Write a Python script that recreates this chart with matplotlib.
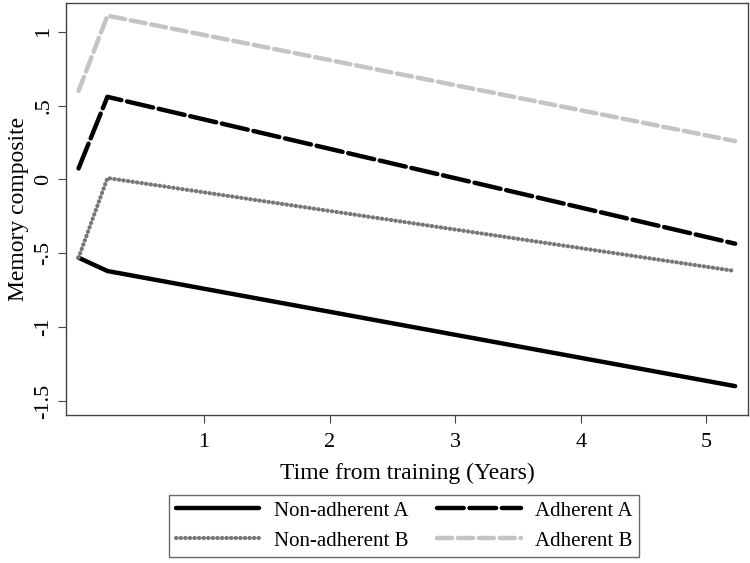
import matplotlib
matplotlib.use('Agg')
import matplotlib.pyplot as plt

plt.rcParams['font.family'] = ['Liberation Serif', 'DejaVu Serif']

# time points (years) and predicted memory composite
time = [0, 0.23, 5.23]
non_adherent_a = [-0.53, -0.62, -1.40]
non_adherent_b = [-0.53, 0.01, -0.62]
adherent_a = [0.075, 0.56, -0.435]
adherent_b = [0.60, 1.11, 0.26]

xticks = [1, 2, 3, 4, 5]
yticks = [1, 0.5, 0, -0.5, -1, -1.5]
ytick_labels = ['1', '.5', '0', '-.5', '-1', '-1.5']

fig = plt.figure(figsize=(7.5, 5.63), dpi=100)
ax = fig.add_axes([0.088, 0.263, 0.909, 0.732])

ax.plot(time, non_adherent_a, color='black', lw=3.2, solid_capstyle='round',
        label='Non-adherent A')
ax.plot(time, non_adherent_b, color='#777777', lw=3.0, linestyle=(0, (0.1, 1.0)),
        dash_capstyle='round', label='Non-adherent B')
ax.plot(time, adherent_a, color='black', lw=3.2, linestyle=(0, (6, 1.3)),
        dash_capstyle='round', label='Adherent A')
ax.plot(time, adherent_b, color='#c4c4c4', lw=3.2, linestyle=(0, (3.4, 1.3)),
        dash_capstyle='round', label='Adherent B')

ax.set_xlim(-0.1, 5.33)
ax.set_ylim(-1.595, 1.197)
ax.set_xticks(xticks)
ax.set_yticks(yticks)
ax.set_yticklabels(ytick_labels, rotation=90, va='center')
ax.tick_params(axis='both', labelsize=16, length=6, width=0.8, color='#444444', direction='out')
ax.tick_params(axis='y', pad=3)
ax.tick_params(axis='x', pad=7)
for s in ax.spines.values():
    s.set_color('#444444')
    s.set_linewidth(1.0)

ax.set_xlabel('Time from training (Years)', fontsize=17, labelpad=8)
ax.set_ylabel('Memory composite', fontsize=17, labelpad=4)

leg = fig.legend(loc='center', bbox_to_anchor=(0.539, 0.066), ncol=2, fontsize=15,
                 frameon=True, fancybox=False, edgecolor='#444444', handlelength=4.0,
                 columnspacing=1.4, borderpad=0.3, labelspacing=0.5, handletextpad=0.7)
leg.get_frame().set_linewidth(1.0)

plt.savefig('out.png', dpi=100)
plt.close()
